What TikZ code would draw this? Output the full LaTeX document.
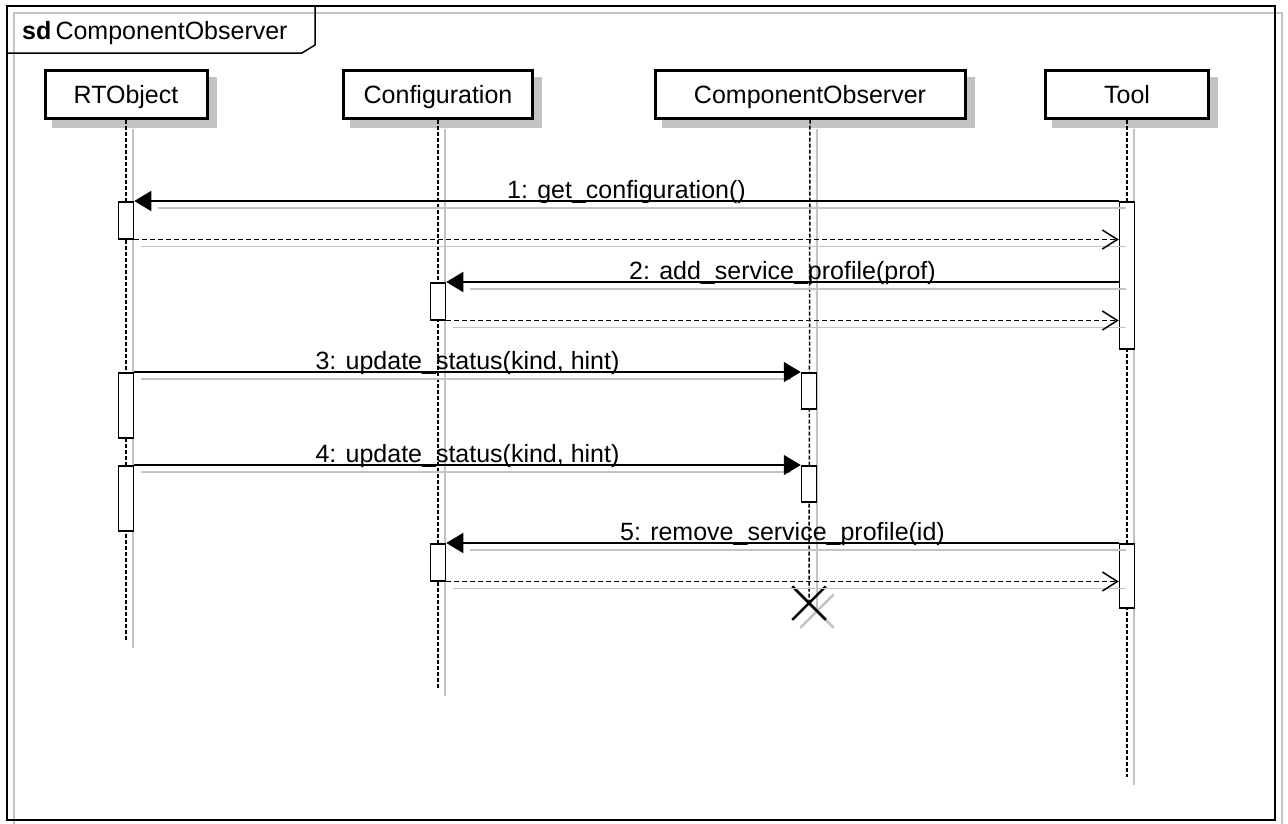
\documentclass[tikz,border=0pt]{standalone}
\usepackage{fontspec}
\setmainfont{Liberation Sans}
\usetikzlibrary{arrows.meta,shapes.misc,backgrounds}
\definecolor{shadowgray}{RGB}{195,195,195}

\begin{document}
\begin{tikzpicture}[x=1pt, y=-1pt,
    every node/.style={font=\fontsize{25}{30}\selectfont},
    head/.style={draw, line width=3pt, fill=white, inner sep=0pt, minimum height=48pt, text height=18pt, text depth=0pt},
    act/.style={draw, line width=1.5pt, fill=white, minimum width=15pt, inner sep=0pt, anchor=north},
    lifeline/.style={line width=1.5pt, dash pattern=on 4pt off 2pt},
    shadowline/.style={shadowgray, line width=1.5pt},
    call/.style={line width=1.5pt, -{Triangle[length=17pt, width=20pt]}},
    reply/.style={line width=1.5pt, dash pattern=on 5pt off 3pt, -{Straight Barb[length=15pt, width=19pt, line width=1.5pt]}},
    msg/.style={anchor=base, yshift=3pt}]
    \useasboundingbox (0,0) rectangle (1288,823);

    % Frame
    \draw[shadowgray, line width=2pt] (14,13) rectangle (1282,828);
    \draw[line width=2pt] (7,6) rectangle (1275,820);
    \draw[line width=1.5pt] (7,53) -- (302,53) -- (315,45) -- (315,6);
    \node[anchor=base west, inner sep=0pt] (title) at (22,39) {\textbf{sd}\,ComponentObserver};

    % Lifeline heads
    \node[head, minimum width=162pt] (rt) at (126,94) {RTObject};
    \node[head, minimum width=189pt] (cfg) at (438,94) {Configuration};
    \node[head, minimum width=310pt] (co) at (810,94) {ComponentObserver};
    \node[head, minimum width=163pt] (tool) at (1127,94) {Tool};
    \begin{scope}[on background layer]
        \foreach \n in {rt,cfg,co,tool}
            \fill[shadowgray] ([shift={(8,8)}]\n.north west) rectangle ([shift={(8,8)}]\n.south east);
    \end{scope}

    % Lifelines
    \coordinate (rtend) at (126,640);
    \coordinate (cfgend) at (438,688);
    \coordinate (toolend) at (1127,777);
    \node[shadowgray, draw, cross out, line width=2.5pt, minimum size=31pt, inner sep=0pt] (killshade) at (817,611) {};
    \draw[shadowline] ([shift={(7,9)}]rt.south) -- ([shift={(7,8)}]rtend);
    \draw[shadowline] ([shift={(7,9)}]cfg.south) -- ([shift={(7,8)}]cfgend);
    \draw[shadowline] ([shift={(7,9)}]co.south) -- (killshade.center);
    \draw[shadowline] ([shift={(7,9)}]tool.south) -- ([shift={(7,8)}]toolend);
    \node[draw, cross out, line width=2.5pt, minimum size=31pt, inner sep=0pt] (kill) at (809,603) {};
    \draw[lifeline] (rt.south) -- (rtend);
    \draw[lifeline] (cfg.south) -- (cfgend);
    \draw[lifeline] (co.south) -- (kill.center);
    \draw[lifeline] (tool.south) -- (toolend);

    % Activations
    \node[act, minimum height=37pt] (rt1) at (126,201) {};
    \node[act, minimum height=65pt] (rt2) at (126,372) {};
    \node[act, minimum height=65pt] (rt3) at (126,465) {};
    \node[act, minimum height=37pt] (cfg1) at (438,282) {};
    \node[act, minimum height=37pt] (cfg2) at (438,543) {};
    \node[act, minimum height=36pt] (co1) at (809,372) {};
    \node[act, minimum height=36pt] (co2) at (809,465) {};
    \node[act, minimum height=147pt] (tool1) at (1127,201) {};
    \node[act, minimum height=64pt] (tool2) at (1127,543) {};

    % Reply ends
    \coordinate (back1) at (tool1.west |- rt1.south);
    \coordinate (back2) at (tool1.west |- cfg1.south);
    \coordinate (back5) at (tool2.west |- cfg2.south);

    % Message shadows
    \draw[shadowline, shorten >=17pt] ([shift={(7,7)}]tool1.north west) -- ([shift={(7,7)}]rt1.north east);
    \draw[shadowline] ([shift={(7,7)}]rt1.south east) -- ([shift={(7,7)}]back1);
    \draw[shadowline, shorten >=17pt] ([shift={(7,7)}]back1 |- cfg1.north) -- ([shift={(7,7)}]cfg1.north east);
    \draw[shadowline] ([shift={(7,7)}]cfg1.south east) -- ([shift={(7,7)}]back2);
    \draw[shadowline, shorten >=17pt] ([shift={(7,7)}]rt2.north east) -- ([shift={(7,7)}]co1.north west);
    \draw[shadowline, shorten >=17pt] ([shift={(7,7)}]rt3.north east) -- ([shift={(7,7)}]co2.north west);
    \draw[shadowline, shorten >=17pt] ([shift={(7,7)}]tool2.north west) -- ([shift={(7,7)}]cfg2.north east);
    \draw[shadowline] ([shift={(7,7)}]cfg2.south east) -- ([shift={(7,7)}]back5);

    % Messages
    \draw[call] (tool1.north west) -- node[msg] {1: get\_configuration()} (rt1.north east);
    \draw[reply] (rt1.south east) -- (back1);
    \draw[call] (back1 |- cfg1.north) -- node[msg] {2: add\_service\_profile(prof)} (cfg1.north east);
    \draw[reply] (cfg1.south east) -- (back2);
    \draw[call] (rt2.north east) -- node[msg] {3: update\_status(kind, hint)} (co1.north west);
    \draw[call] (rt3.north east) -- node[msg] {4: update\_status(kind, hint)} (co2.north west);
    \draw[call] (tool2.north west) -- node[msg] {5: remove\_service\_profile(id)} (cfg2.north east);
    \draw[reply] (cfg2.south east) -- (back5);
\end{tikzpicture}
\end{document}
